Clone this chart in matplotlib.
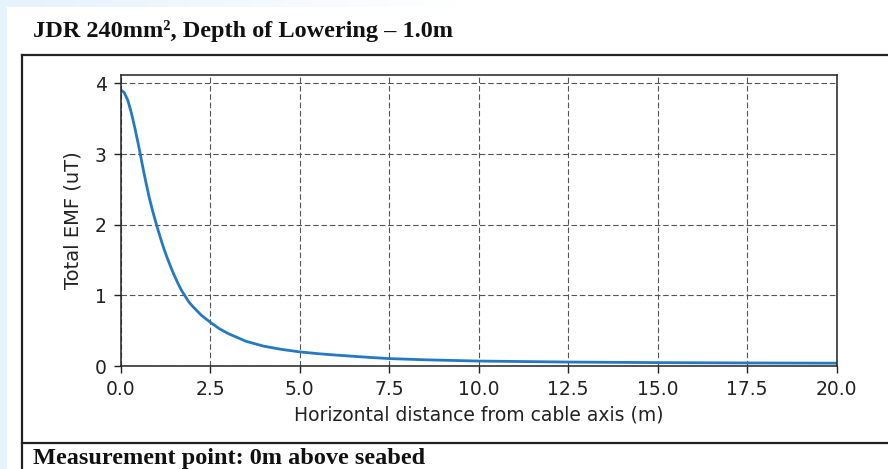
import matplotlib
matplotlib.use('Agg')
import matplotlib.pyplot as plt
from matplotlib.lines import Line2D
from matplotlib.patches import Rectangle
import numpy as np

# horizontal distance from the cable axis (m) and total EMF (uT)
distance = [0.0, 0.1, 0.2, 0.3, 0.4, 0.5, 0.6, 0.7, 0.8, 0.9, 1.0,
            1.1, 1.2, 1.3, 1.4, 1.5, 1.6, 1.7, 1.8, 1.9, 2.0, 2.25,
            2.5, 2.75, 3.0, 3.5, 4.0, 4.5, 5.0, 5.5, 6.0, 7.0, 7.5,
            8.5, 10.0, 12.5, 15.0, 17.5, 20.0]
emf = [3.91, 3.87, 3.76, 3.58, 3.36, 3.12, 2.86, 2.61, 2.38, 2.18, 2.00,
       1.83, 1.67, 1.53, 1.40, 1.28, 1.17, 1.07, 0.99, 0.91, 0.85, 0.72,
       0.62, 0.53, 0.46, 0.35, 0.28, 0.235, 0.20, 0.175, 0.155, 0.12, 0.105,
       0.088, 0.07, 0.056, 0.048, 0.043, 0.04]

xticks = [0.0, 2.5, 5.0, 7.5, 10.0, 12.5, 15.0, 17.5, 20.0]
yticks = [0, 1, 2, 3, 4]

title = 'JDR 240mm\u00b2, Depth of Lowering \u2013 1.0m'
footer = 'Measurement point: 0m above seabed'

W, H = 888, 469
fig = plt.figure(figsize=(W / 100, H / 100), dpi=100)
fig.patch.set_facecolor('white')

# page margin strips
blue = '#e6f2fc'
fig.patches.append(Rectangle((0, 0), 7 / W, 1, transform=fig.transFigure,
                             facecolor=blue, edgecolor='none', zorder=0))
grad = np.linspace(1, 0, 256).reshape(1, -1)
gax = fig.add_axes([7 / W, 1 - 7 / H, 450 / W, 7 / H])
gax.imshow(grad, aspect='auto', cmap=matplotlib.colors.LinearSegmentedColormap.from_list(
    'strip', ['white', blue]), vmin=0, vmax=1)
gax.axis('off')

# table border
def hline(y, x0=22, x1=W, lw=1.6):
    fig.lines.append(Line2D([x0 / W, x1 / W], [1 - y / H, 1 - y / H],
                            transform=fig.transFigure, color='#222222', lw=lw))

hline(55)
hline(443)
fig.lines.append(Line2D([22 / W, 22 / W], [0, 1 - 55 / H], transform=fig.transFigure,
                        color='#222222', lw=1.6))

serif = ['Liberation Serif', 'DejaVu Serif']
fig.text(33 / W, 1 - 37 / H, title, fontsize=17.5, fontweight='bold',
         family=serif, color='#111111', va='baseline')
fig.text(33 / W, 1 - 464 / H, footer, fontsize=17.5, fontweight='bold',
         family=serif, color='#111111', va='baseline')

ax = fig.add_axes([120.7 / W, 1 - 366 / H, (836.5 - 120.7) / W, (366 - 75) / H])
ax.plot(distance, emf, color='#2479c2', lw=2.0)
ax.set_xlim(0, 20)
ax.set_ylim(0, 4.12)
ax.set_xticks(xticks)
ax.set_xticklabels(['%.1f' % t for t in xticks])
ax.set_yticks(yticks)
ax.grid(True, color='#555555', linestyle=(0, (5, 2.5)), linewidth=0.8)
ax.tick_params(labelsize=13.5, length=5, width=1, colors='#222222', pad=5)
for s in ax.spines.values():
    s.set_color('#222222')
    s.set_linewidth(1.1)
ax.set_xlabel('Horizontal distance from cable axis (m)', fontsize=13.5,
              color='#222222', labelpad=5)
ax.set_ylabel('Total EMF (uT)', fontsize=14, color='#222222', labelpad=9)

fig.savefig('out.png', dpi=100)
